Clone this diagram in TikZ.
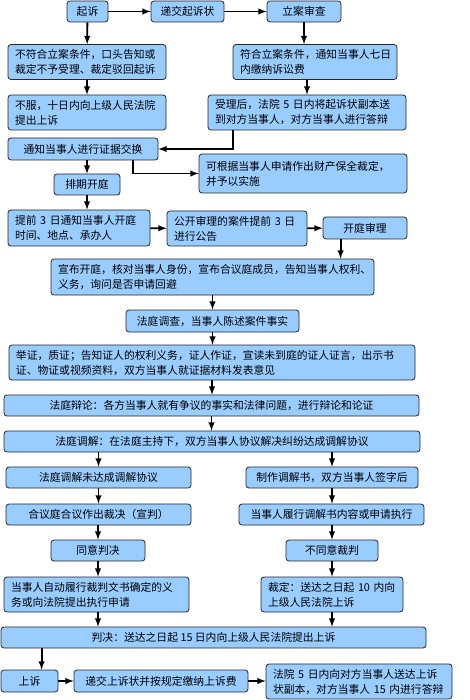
\documentclass[tikz,border=0pt]{standalone}
\usepackage{fontspec}
\setmainfont{Noto Sans CJK SC}
\usepackage{tikz}
\usetikzlibrary{arrows,calc}
\definecolor{boxblue}{HTML}{99CCFF}

\begin{document}
\begin{tikzpicture}[x=1pt,y=-1pt]
\tikzstyle{box}=[rectangle, rounded corners=3pt, draw=black!85, line width=0.8pt, fill=boxblue, inner xsep=7pt, inner ysep=0pt, font=\fontsize{10.8}{15}\selectfont]
\tikzstyle{two}=[box, align=left, minimum height=35]
\tikzstyle{one}=[box, minimum height=21]
\tikzstyle{connect}=[-latex, line width=1.8pt]
\useasboundingbox (0,0) rectangle (470,700);

% filing
\node[one, minimum width=41] (sue) at (87.5,11.5) {起诉};
\node[one, minimum width=73] (submit) at (187.5,11.5) {递交起诉状};
\node[one, minimum width=74] (review) at (304,11.5) {立案审查};
\node[two, text width=144] (reject) at (87,62) {不符合立案条件，口头告知或\\裁定不予受理、裁定驳回起诉};
\node[two, text width=150] (accept) at (315,62) {符合立案条件，通知当事人七日\\内缴纳诉讼费};
\node[two, text width=144] (object) at (87,112.5) {不服，十日内向上级人民法院\\提出上诉};
\node[two, text width=184] (serve) at (307,112.5) {受理后，法院 5 日内将起诉状副本送\\到对方当事人，对方当事人进行答辩};

% before the hearing
\node[one, minimum width=150, minimum height=22] (exchange) at (83,149) {通知当事人进行证据交换};
\node[two, text width=194, minimum height=39] (preserve) at (303,173.5) {可根据当事人申请作出财产保全裁定，\\并予以实施};
\node[one, minimum width=66] (schedule) at (87,184.5) {排期开庭};
\node[two, text width=128, minimum height=36] (notice) at (79,228) {提前 3 日通知当事人开庭\\时间、地点、承办人};
\node[two, text width=126] (publish) at (237,228.5) {公开审理的案件提前 3 日\\进行公告};
\node[one, minimum width=84, minimum height=22] (hearing) at (365,228) {开庭审理};

% the hearing
\node[two, text width=309, minimum height=36] (announce) at (212.5,277) {宣布开庭，核对当事人身份，宣布合议庭成员，告知当事人权利、\\义务，询问是否申请回避};
\node[one, minimum width=173, minimum height=22] (inquiry) at (212.5,321) {法庭调查，当事人陈述案件事实};
\node[two, text width=392] (evidence) at (212,362.5) {举证，质证；告知证人的权利义务，证人作证，宣读未到庭的证人证言，出示书\\证、物证或视频资料，双方当事人就证据材料发表意见};
\node[one, minimum width=415] (debate) at (211.5,405.5) {法庭辩论：各方当事人就有争议的事实和法律问题，进行辩论和论证};
\node[one, minimum width=416] (mediate) at (212,441.5) {法庭调解：在法庭主持下，双方当事人协议解决纠纷达成调解协议};

% outcome
\node[one, minimum width=185] (nodeal) at (98.5,477.5) {法庭调解未达成调解协议};
\node[one, minimum width=172] (deal) at (332,477.5) {制作调解书，双方当事人签字后};
\node[one, minimum width=185] (verdict) at (98.5,514.5) {合议庭合议作出裁决（宣判）};
\node[one, minimum width=185] (perform) at (331.5,514.5) {当事人履行调解书内容或申请执行};
\node[one, minimum width=94] (agree) at (98,550.5) {同意判决};
\node[one, minimum width=92] (disagree) at (332,550.5) {不同意裁判};
\node[two, text width=171] (execute) at (96.5,594.5) {当事人自动履行裁判文书确定的义\\务或向法院提出执行申请};
\node[two, text width=128] (ruling) at (332,594.5) {裁定：送达之日起 10 内向\\上级人民法院上诉};
\node[one, minimum width=425] (judgment) at (213.5,637.5) {判决：送达之日起 15 日内向上级人民法院提出上诉};

% appeal
\node[one, minimum width=57, minimum height=22] (appeal) at (29.5,681) {上诉};
\node[one, minimum width=174, minimum height=22] (fee) at (161,681) {递交上诉状并按规定缴纳上诉费};
\node[two, text width=172] (reply) at (359,681.5) {法院 5 日内向对方当事人送达上诉\\状副本，对方当事人 15 内进行答辩};

\coordinate (s_out) at ($(serve.south west)+(25,0)$);
\coordinate (e_out) at ($(exchange.south west)+(125,0)$);
\coordinate (h_out) at ($(hearing.south west)+(18,0)$);
\coordinate (j_out) at ($(judgment.south west)+(41,0)$);

\path[connect]
	(sue) edge (submit)
	(submit) edge (review)
	(sue) edge (reject)
	(review.south) edge (review.south |- accept.north)
	(accept.south -| serve.north) edge (serve.north)
	(reject) edge (object)
	(schedule.north |- exchange.south) edge (schedule.north)
	(schedule.south) edge (schedule.south |- notice.north)
	(notice) edge (publish)
	(publish) edge (hearing)
	(h_out) edge (h_out |- announce.north)
	(announce) edge (inquiry)
	(inquiry.south) edge (inquiry.south |- evidence.north)
	(evidence.south) edge (evidence.south |- debate.north)
	(debate.south) edge (debate.south |- mediate.north)
	(mediate.south -| nodeal.north) edge (nodeal.north)
	(mediate.south -| deal.north) edge (deal.north)
	(nodeal.south) edge (nodeal.south |- verdict.north)
	(deal.south) edge (deal.south |- perform.north)
	(verdict.south -| agree.north) edge (agree.north)
	(perform.south -| disagree.north) edge (disagree.north)
	(agree.south) edge (agree.south |- execute.north)
	(disagree.south) edge (disagree.south |- ruling.north)
	(agree.south |- execute.south) edge (agree.south |- judgment.north)
	(ruling.south) edge (ruling.south |- judgment.north)
	(j_out) edge (j_out |- appeal.north)
	(appeal) edge (fee)
	(fee.east) edge (fee.east -| reply.west);

\draw[connect] (s_out) |- (exchange.east);
\draw[connect] (e_out) |- (preserve.west);

\end{tikzpicture}
\end{document}
